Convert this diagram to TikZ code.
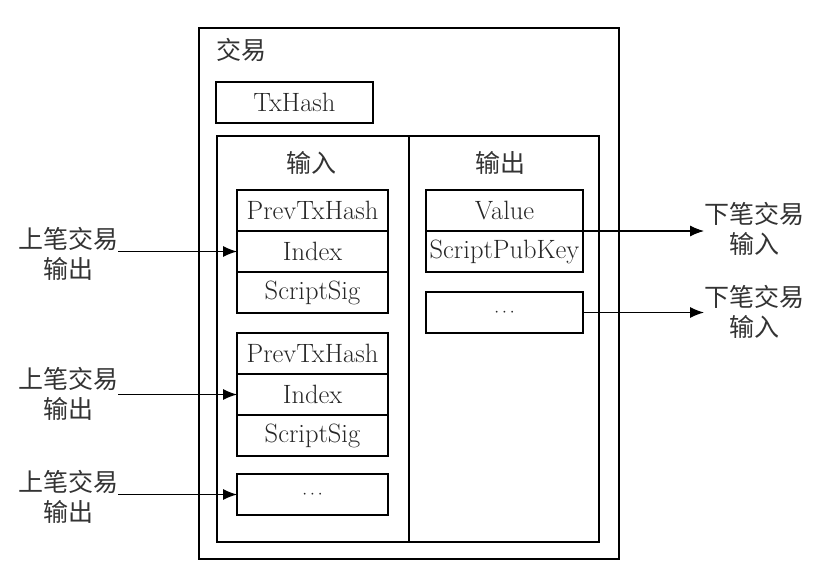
\documentclass[tikz,border=0pt]{standalone}
\usepackage{fontspec}
\newfontfamily\cjk{Noto Sans CJK SC}
\usetikzlibrary{arrows.meta}
\begin{document}
\begin{tikzpicture}[x=1pt,y=-1pt,
  every node/.style={inner sep=0pt, outer sep=0pt},
  frame/.style={draw, line width=1.1pt, anchor=north west},
  cell/.style={draw, line width=1.1pt, minimum height=41pt, font=\fontsize{26.5}{30}\selectfont, text=black!85},
  incell/.style={cell, minimum width=151pt},
  outcell/.style={cell, minimum width=157pt},
  zh/.style={font=\fontsize{25}{30}\selectfont\cjk, align=center, text=black!80},
  arr/.style={line width=1.1pt, -{Latex[length=14pt,width=11pt]}},
]
\useasboundingbox (0,0) rectangle (832,574);
% outer transaction box
\node[frame, minimum width=420pt, minimum height=531pt] (tx) at (199,28) {};
\node[zh, anchor=west] (txlab) at (216,50) {交易};
\node[cell, minimum width=157pt] (txhash) at (294.5,102.5) {TxHash};
% inner box with divider
\node[frame, minimum width=192pt, minimum height=406pt] (inbox) at (217,136) {};
\node[frame, minimum width=190pt, minimum height=406pt] (outbox) at (409,136) {};
\node[zh] (inlab) at (311,163) {输入};
\node[zh] (outlab) at (500,163) {输出};
% input group 1
\node[incell] (p1) at (312.5,210.5) {PrevTxHash};
\node[incell] (i1) at (312.5,251.5) {Index};
\node[incell] (s1) at (312.5,292.5) {ScriptSig};
% input group 2
\node[incell] (p2) at (312.5,353.5) {PrevTxHash};
\node[incell] (i2) at (312.5,394.5) {Index};
\node[incell] (s2) at (312.5,435.5) {ScriptSig};
% input group 3
\node[incell] (d3) at (312.5,494.5) {\fontsize{17}{20}\selectfont$\cdots$};
% outputs
\node[outcell] (val) at (504.5,210.5) {Value};
\node[outcell] (spk) at (504.5,251.5) {ScriptPubKey};
\node[outcell] (od) at (504.5,312.5) {\fontsize{17}{20}\selectfont$\cdots$};
% left labels
\node[zh] (l1) at (68,254) {上笔交易\\输出};
\node[zh] (l2) at (68,394) {上笔交易\\输出};
\node[zh] (l3) at (68,497) {上笔交易\\输出};
% right labels
\node[zh, anchor=west] (r1) at (704,229) {下笔交易\\输入};
\node[zh, anchor=west] (r2) at (704,312) {下笔交易\\输入};
% arrows
\draw[arr] (l1.east |- i1.west) -- (i1.west);
\draw[arr] (l2.east |- i2.west) -- (i2.west);
\draw[arr] (l3.east |- d3.west) -- (d3.west);
\draw[arr] (val.south east) -- (r1.west |- val.south east);
\draw[arr] (od.east) -- (r2.west |- od.east);
\end{tikzpicture}
\end{document}
